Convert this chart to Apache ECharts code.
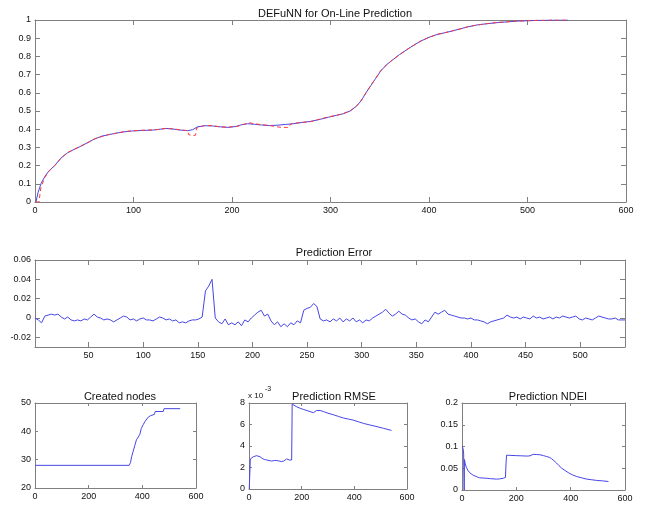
<!DOCTYPE html>
<html>
<head>
<meta charset="utf-8">
<title>DEFuNN for On-Line Prediction</title>
<style>
html,body { height:100%; width:100%; margin:0; padding:0; background:#fff; }
</style>
<script src="https://cdn.jsdelivr.net/npm/echarts@6/dist/echarts.min.js"></script>
</head>
<body>
<div id="main" style="width:645px;height:511px;"></div>
<script type="text/javascript">
// ---- data ----
// top panel: actual (blue) and predicted (red dashed), [t, value]
var actual = [[1,0.0],[3,0.05],[6,0.1],[10,0.14],[14,0.17],[20,0.2],[26,0.24],[33,0.27],[40,0.29],[46,0.305],
  [53,0.325],[60,0.345],[68,0.362],[75,0.37],[82,0.378],[90,0.385],[98,0.39],[108,0.393],[119,0.395],[127,0.4],
  [133,0.404],[140,0.401],[148,0.395],[155,0.392],[160,0.397],[165,0.413],[172,0.419],[180,0.418],[188,0.413],[196,0.41],
  [204,0.415],[210,0.425],[216,0.43],[223,0.427],[230,0.423],[238,0.42],[246,0.422],[254,0.426],[262,0.43],[270,0.436],
  [280,0.443],[290,0.455],[298,0.466],[306,0.476],[313,0.485],[320,0.5],[326,0.525],[331,0.555],[336,0.6],[341,0.64],
  [346,0.68],[351,0.72],[357,0.755],[363,0.78],[370,0.81],[377,0.835],[384,0.86],[392,0.885],[400,0.905],[408,0.92],
  [416,0.93],[424,0.94],[432,0.952],[440,0.963],[450,0.974],[460,0.98],[470,0.986],[480,0.99],[490,0.994],[500,0.996],
  [510,0.998],[520,0.999],[530,1.0],[541,1.0]];
var predicted = [[1,0],[4,0],[5,0.04],[6,0.08],[10,0.135],[14,0.168],[20,0.2],[26,0.238],[33,0.272],[40,0.29],
  [46,0.306],[53,0.324],[60,0.346],[68,0.36],[75,0.371],[82,0.377],[90,0.386],[98,0.391],[108,0.394],[119,0.396],
  [127,0.399],[133,0.405],[140,0.402],[148,0.396],[155,0.392],[156,0.37],[160,0.365],[163,0.367],[164,0.405],[166,0.413],
  [172,0.42],[180,0.42],[188,0.412],[196,0.412],[204,0.414],[210,0.423],[217,0.436],[223,0.43],[230,0.425],[238,0.42],
  [246,0.413],[250,0.41],[255,0.41],[258,0.41],[259,0.425],[262,0.432],[270,0.437],[280,0.442],[290,0.456],[298,0.468],
  [306,0.476],[313,0.486],[320,0.502],[326,0.524],[331,0.557],[336,0.598],[341,0.642],[346,0.68],[351,0.722],[357,0.753],
  [363,0.782],[370,0.808],[377,0.836],[384,0.859],[392,0.886],[400,0.904],[408,0.921],[416,0.93],[424,0.941],[432,0.951],
  [440,0.964],[450,0.973],[460,0.981],[470,0.987],[480,0.99],[485,0.995],[490,0.993],[500,0.997],[505,0.995],[510,0.999],
  [520,0.998],[525,1.002],[530,0.999],[541,1.0]];

// prediction error, one value every errStep samples starting at errStart
var errStart = 1, errStep = 3;
var errValues = [
  0, -0.002, -0.005, 0.002, 0.003, 0.004, 0.003, 0.004, 0.001, -0.001,
  0.001, -0.002, -0.003, -0.002, -0.003, -0.001, -0.002, 0.001, 0.004, 0.001,
  0, -0.002, -0.001, -0.002, -0.004, -0.002, 0, 0.002, 0.001, -0.002,
  -0.001, -0.003, -0.001, 0, -0.002, -0.002, -0.003, -0.001, 0.001, 0,
  -0.002, -0.001, -0.003, -0.002, -0.005, -0.004, -0.005, -0.003, -0.002, -0.002,
  -0.001, 0.001, 0.028, 0.033, 0.040, 0, -0.004, -0.006, -0.001, -0.007,
  -0.005, -0.007, -0.004, -0.008, -0.002, -0.004, 0, 0.003, 0.006, 0.008,
  0.002, 0.004, -0.003, -0.007, -0.004, -0.009, -0.006, -0.009, -0.005, -0.007,
  -0.003, -0.005, 0.008, 0.010, 0.011, 0.015, 0.012, -0.001, -0.003, -0.002,
  -0.004, -0.001, -0.003, 0, -0.004, -0.001, -0.003, 0, -0.004, -0.002,
  -0.005, -0.002, -0.003, 0, 0.002, 0.004, 0.006, 0.009, 0.005, 0.002,
  0.004, 0.007, 0.004, 0.003, 0, -0.002, -0.001, -0.004, -0.006, -0.002,
  -0.004, 0.001, 0.006, 0.004, 0.006, 0.008, 0.004, 0.003, 0.002, 0.001,
  0, 0, -0.001, 0, -0.002, -0.002, -0.003, -0.004, -0.006, -0.004,
  -0.003, -0.002, -0.001, 0, 0.003, 0.001, 0, 0.001, -0.001, 0.001,
  0, -0.001, 0.002, 0, 0.001, -0.001, 0, 0.001, -0.001, 0.001,
  0, 0.002, 0.001, 0, 0.001, 0.002, -0.001, -0.002, 0, -0.001,
  -0.002, 0, 0.002, 0.001, 0, -0.001, -0.001, 0, -0.002, -0.002,
  -0.002];

var nodes = [[1,28],[351,28],[356,29],[360,31],[366,33],[372,35],[378,37],[385,38],[391,39],[396,41],
  [404,42.5],[410,43.5],[416,44],[422,45],[430,45.5],[435,46],[445,46],[448,47],[478,47],[481,48],[541,48]];

// RMSE in units of 1e-3
var rmse = [[1,0],[4,0],[5,2.8],[8,2.9],[11,2.85],[16,3.0],[22,3.05],[29,3.1],[35,3.0],[42,3.0],
  [50,2.85],[58,2.75],[67,2.7],[76,2.65],[86,2.6],[96,2.65],[105,2.65],[115,2.6],[124,2.55],[132,2.6],
  [137,2.7],[143,2.8],[148,2.75],[153,2.7],[160,2.65],[162,2.7],[164,7.9],[170,7.8],[181,7.65],[195,7.5],
  [207,7.4],[220,7.3],[232,7.2],[245,7.1],[251,7.1],[256,7.3],[260,7.4],[270,7.3],[283,7.2],[300,7.05],
  [321,6.9],[340,6.75],[359,6.6],[378,6.5],[397,6.4],[416,6.25],[435,6.1],[460,5.95],[486,5.8],[510,5.65],[541,5.45]];

var ndei = [[1,0.1],[4,0.095],[6,0.085],[8,0],[9,0.07],[12,0.06],[16,0.052],[22,0.045],[28,0.04],[34,0.037],
  [41,0.034],[47,0.032],[56,0.03],[65,0.028],[78,0.0275],[90,0.027],[105,0.026],[118,0.0255],[127,0.025],[138,0.0255],
  [145,0.026],[152,0.027],[157,0.028],[160,0.029],[162,0.06],[164,0.08],[180,0.0795],[200,0.079],[220,0.0785],[240,0.078],
  [250,0.0785],[255,0.081],[262,0.082],[275,0.0815],[287,0.081],[300,0.079],[311,0.077],[322,0.075],[330,0.072],[339,0.067],
  [348,0.062],[357,0.056],[367,0.05],[379,0.045],[391,0.04],[406,0.035],[422,0.031],[440,0.028],[459,0.025],[478,0.0235],
  [496,0.022],[518,0.021],[539,0.0195]];

// tick positions
var ticks0to600 = [0, 100, 200, 300, 400, 500, 600];
var ticksTopY = [0, 0.1, 0.2, 0.3, 0.4, 0.5, 0.6, 0.7, 0.8, 0.9, 1];
var ticksErrX = [50, 100, 150, 200, 250, 300, 350, 400, 450, 500];
var ticksErrY = [-0.02, 0, 0.02, 0.04, 0.06];
var ticks200 = [0, 200, 400, 600];
var ticksNodesY = [20, 30, 40, 50];
var ticksRmseY = [0, 2, 4, 6, 8];
var ticksNdeiY = [0, 0.05, 0.1, 0.15, 0.2];

var errData = errValues.map(function (v, i) { return [errStart + i * errStep, v]; });

var blue = '#4646e6';
var red = '#ff3838';
var font = 'Liberation Sans';

var grids = [
  { left: 35, top: 20, width: 591, height: 182 },
  { left: 35, top: 260, width: 590, height: 87 },
  { left: 35, top: 403, width: 161, height: 85 },
  { left: 249, top: 403, width: 158, height: 86 },
  { left: 462, top: 403, width: 163, height: 87 }
];

var xAxes = [], yAxes = [];
function addAxes(g, xmin, xmax, xt, ymin, ymax, yt, tickLen) {
  var line = { show: true, onZero: false, lineStyle: { color: '#808080', width: 1 } };
  var lab = { color: '#111', fontSize: 9, fontFamily: font, margin: 4 };
  var tick = { show: true, inside: true, length: tickLen, lineStyle: { color: '#808080' } };
  xAxes.push({ type: 'value', gridIndex: g, position: 'bottom', min: xmin, max: xmax,
    axisLine: line, splitLine: { show: false },
    axisTick: Object.assign({ customValues: xt }, tick),
    axisLabel: Object.assign({ customValues: xt }, lab) });
  xAxes.push({ type: 'value', gridIndex: g, position: 'top', min: xmin, max: xmax,
    axisLine: line, splitLine: { show: false }, axisLabel: { show: false },
    axisTick: Object.assign({ customValues: xt }, tick) });
  yAxes.push({ type: 'value', gridIndex: g, position: 'left', min: ymin, max: ymax,
    axisLine: line, splitLine: { show: false },
    axisTick: Object.assign({ customValues: yt }, tick),
    axisLabel: Object.assign({ customValues: yt }, lab) });
  yAxes.push({ type: 'value', gridIndex: g, position: 'right', min: ymin, max: ymax,
    axisLine: line, splitLine: { show: false }, axisLabel: { show: false },
    axisTick: Object.assign({ customValues: yt }, tick) });
}
addAxes(0, 0, 600, ticks0to600, 0, 1, ticksTopY, 5);
addAxes(1, 1, 541, ticksErrX, -0.03, 0.06, ticksErrY, 5);
addAxes(2, 0, 600, ticks200, 20, 50, ticksNodesY, 3);
addAxes(3, 0, 600, ticks200, 0, 8, ticksRmseY, 3);
addAxes(4, 0, 600, ticks200, 0, 0.2, ticksNdeiY, 3);

function line(g, data, color, dashed) {
  return { type: 'line', xAxisIndex: 2 * g, yAxisIndex: 2 * g, data: data, showSymbol: false,
    symbol: 'none', silent: true,
    lineStyle: { color: color, width: 1, type: dashed ? [4, 3] : 'solid' } };
}

var titleStyle = { fontSize: 11, fontWeight: 'normal', color: '#111', fontFamily: font };
var myChart = echarts.init(document.getElementById('main'), null, { renderer: 'canvas' });
var option = {
  animation: false,
  backgroundColor: '#fff',
  title: [
    { text: 'DEFuNN for On-Line Prediction', left: 330, top: 3, textAlign: 'center', textStyle: titleStyle },
    { text: 'Prediction Error', left: 329, top: 242, textAlign: 'center', textStyle: titleStyle },
    { text: 'Created nodes', left: 115, top: 386, textAlign: 'center', textStyle: titleStyle },
    { text: 'Prediction RMSE', left: 329, top: 386, textAlign: 'center', textStyle: titleStyle },
    { text: 'Prediction NDEI', left: 543, top: 386, textAlign: 'center', textStyle: titleStyle }
  ],
  graphic: [
    { type: 'text', left: 248, top: 392, style: { text: 'x 10', fontSize: 8, fill: '#111', fontFamily: font } },
    { type: 'text', left: 265, top: 386, style: { text: '-3', fontSize: 7, fill: '#111', fontFamily: font } }
  ],
  grid: grids,
  xAxis: xAxes,
  yAxis: yAxes,
  series: [
    line(0, actual, blue, false),
    line(0, predicted, red, true),
    line(1, errData, blue, false),
    line(2, nodes, blue, false),
    line(3, rmse, blue, false),
    line(4, ndei, blue, false)
  ]
};
myChart.setOption(option);
</script>
</body>
</html>
